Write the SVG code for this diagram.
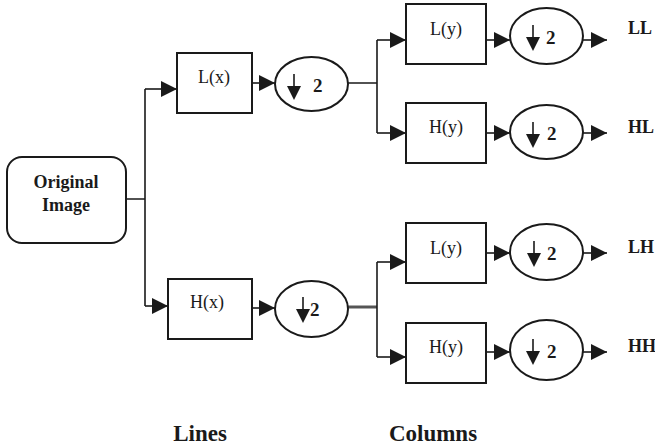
<svg xmlns="http://www.w3.org/2000/svg" width="655" height="445" viewBox="0 0 655 445">
<style>
.box{fill:#fff;stroke:#1a1a1a;stroke-width:2}
.ell{fill:#fff;stroke:#1a1a1a;stroke-width:2}
.ln{fill:none;stroke:#1a1a1a;stroke-width:1.6}
.lbl{font-family:"Liberation Serif","Times New Roman",serif;font-size:18px;fill:#1a1a1a;text-anchor:middle}
.b{font-family:"Liberation Serif","Times New Roman",serif;font-weight:bold;fill:#1a1a1a}
.two{font-size:19px}
.out{font-size:18px}
.foot{font-size:23px;text-anchor:middle}
</style>
<defs>
<marker id="ah" markerUnits="userSpaceOnUse" markerWidth="17" markerHeight="16" refX="16" refY="8" orient="auto">
<path d="M0,0 L16,8 L0,16 Z" fill="#1a1a1a"/>
</marker>
<g id="down">
<path d="M0,-11 V3" stroke="#1a1a1a" stroke-width="1.6" fill="none"/>
<path d="M-7,1 L7,1 L0,15 Z" fill="#1a1a1a"/>
</g>
</defs>

<g id="connectors">
<path class="ln" d="M126,199 H145 M145,89 V306"/>
<path class="ln" d="M145,89 H177" marker-end="url(#ah)"/>
<path class="ln" d="M145,306 H168" marker-end="url(#ah)"/>
<path class="ln" d="M252,83 H275" marker-end="url(#ah)"/>
<path class="ln" d="M252,308 H275" marker-end="url(#ah)"/>
<path class="ln" d="M348,83 H377 M377,40 V133"/>
<path d="M348,307 H377" fill="none" stroke="#555" stroke-width="3"/>
<path class="ln" d="M377,262 V357"/>
<path class="ln" d="M377,40 H406" marker-end="url(#ah)"/>
<path class="ln" d="M377,133 H406" marker-end="url(#ah)"/>
<path class="ln" d="M377,262 H406" marker-end="url(#ah)"/>
<path class="ln" d="M377,357 H406" marker-end="url(#ah)"/>
<path class="ln" d="M486,40 H510" marker-end="url(#ah)"/>
<path class="ln" d="M486,133 H510" marker-end="url(#ah)"/>
<path class="ln" d="M486,253 H510" marker-end="url(#ah)"/>
<path class="ln" d="M486,352 H510" marker-end="url(#ah)"/>
<path class="ln" d="M583,40 H607" marker-end="url(#ah)"/>
<path class="ln" d="M583,133 H607" marker-end="url(#ah)"/>
<path class="ln" d="M583,253 H607" marker-end="url(#ah)"/>
<path class="ln" d="M583,352 H607" marker-end="url(#ah)"/>
</g>

<g id="original">
<rect class="box" x="7" y="157" width="119" height="86" rx="15"/>
<text class="b" x="66" y="188" font-size="18" text-anchor="middle">Original</text>
<text class="b" x="66" y="211" font-size="18" text-anchor="middle">Image</text>
</g>

<g id="Lx">
<rect class="box" x="177" y="53" width="75" height="60"/>
<text class="lbl" x="214" y="83">L(x)</text>
</g>
<g id="Hx">
<rect class="box" x="168" y="279" width="84" height="60"/>
<text class="lbl" x="207" y="308">H(x)</text>
</g>
<g id="dsLx">
<ellipse class="ell" cx="311.5" cy="84" rx="36.5" ry="27"/>
<use href="#down" x="294" y="85"/>
<text class="b two" x="313" y="92">2</text>
</g>
<g id="dsHx">
<ellipse class="ell" cx="311.5" cy="309" rx="36.5" ry="28"/>
<use href="#down" x="303" y="308"/>
<text class="b two" x="310" y="316">2</text>
</g>

<g id="Ly1">
<rect class="box" x="406" y="4" width="80" height="60"/>
<text class="lbl" x="446" y="35">L(y)</text>
</g>
<g id="Hy1">
<rect class="box" x="406" y="103" width="80" height="60"/>
<text class="lbl" x="446" y="133">H(y)</text>
</g>
<g id="Ly2">
<rect class="box" x="406" y="223" width="80" height="60"/>
<text class="lbl" x="446" y="254">L(y)</text>
</g>
<g id="Hy2">
<rect class="box" x="406" y="323" width="80" height="60"/>
<text class="lbl" x="446" y="353">H(y)</text>
</g>

<g id="ds1">
<ellipse class="ell" cx="546.5" cy="36" rx="36.5" ry="28"/>
<use href="#down" x="533" y="36"/>
<text class="b two" x="546" y="44">2</text>
</g>
<g id="ds2">
<ellipse class="ell" cx="546.5" cy="132" rx="36.5" ry="27"/>
<use href="#down" x="533" y="133"/>
<text class="b two" x="547" y="140">2</text>
</g>
<g id="ds3">
<ellipse class="ell" cx="546.5" cy="252" rx="36.5" ry="28"/>
<use href="#down" x="534" y="252"/>
<text class="b two" x="547" y="260">2</text>
</g>
<g id="ds4">
<ellipse class="ell" cx="546.5" cy="350" rx="36.5" ry="30"/>
<use href="#down" x="533" y="350"/>
<text class="b two" x="547" y="358">2</text>
</g>

<g id="outputs">
<text class="b out" x="628" y="34">LL</text>
<text class="b out" x="628" y="133">HL</text>
<text class="b out" x="628" y="253">LH</text>
<text class="b out" x="628" y="352">HH</text>
</g>

<g id="footer">
<text class="b foot" x="200" y="441">Lines</text>
<text class="b foot" x="433" y="441">Columns</text>
</g>
</svg>
